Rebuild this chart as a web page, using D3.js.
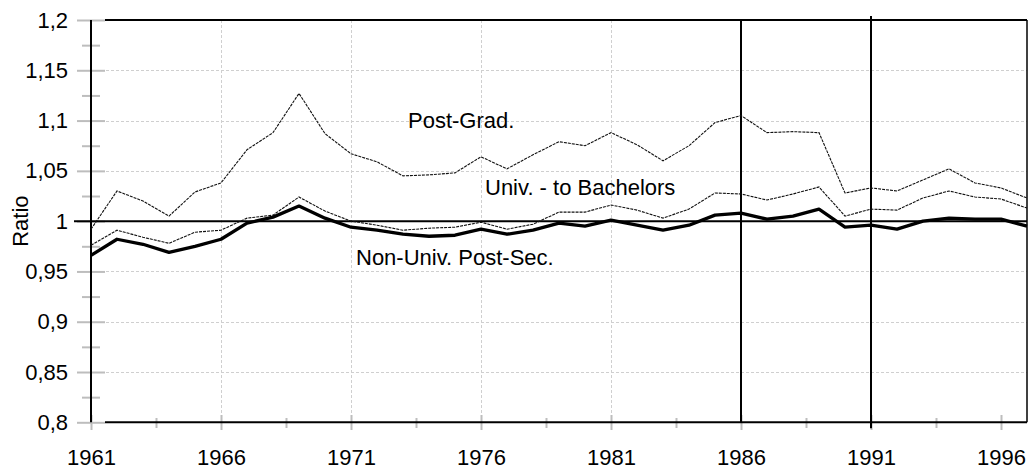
<!DOCTYPE html>
<html>
<head>
<meta charset="utf-8">
<script src="https://cdn.jsdelivr.net/npm/d3@7"></script>
<style>
  body { margin: 0; background: #fff; }
  svg { display: block; }
  text { font-family: "Liberation Sans", Arial, sans-serif; fill: #000; }
</style>
</head>
<body>
<div id="chart"></div>
<script>
var years = [1961, 1962, 1963, 1964, 1965, 1966, 1967, 1968, 1969, 1970,
             1971, 1972, 1973, 1974, 1975, 1976, 1977, 1978, 1979, 1980,
             1981, 1982, 1983, 1984, 1985, 1986, 1987, 1988, 1989, 1990,
             1991, 1992, 1993, 1994, 1995, 1996, 1997];

var postGrad = [0.992, 1.030, 1.020, 1.005, 1.029, 1.038, 1.071, 1.088, 1.127, 1.087,
                1.067, 1.059, 1.045, 1.046, 1.048, 1.064, 1.052, 1.066, 1.079, 1.075,
                1.088, 1.076, 1.060, 1.075, 1.098, 1.105, 1.088, 1.089, 1.088, 1.028,
                1.033, 1.030, 1.041, 1.052, 1.038, 1.033, 1.023];

var univBach = [0.976, 0.991, 0.984, 0.978, 0.989, 0.991, 1.003, 1.006, 1.024, 1.010,
                1.000, 0.996, 0.991, 0.993, 0.994, 0.999, 0.992, 0.997, 1.009, 1.009,
                1.016, 1.011, 1.003, 1.012, 1.028, 1.027, 1.021, 1.027, 1.034, 1.005,
                1.012, 1.011, 1.023, 1.030, 1.024, 1.022, 1.013];

var nonUniv = [0.966, 0.982, 0.977, 0.969, 0.975, 0.982, 0.998, 1.004, 1.015, 1.003,
               0.994, 0.991, 0.987, 0.985, 0.986, 0.992, 0.987, 0.991, 0.998, 0.995,
               1.001, 0.996, 0.991, 0.996, 1.006, 1.008, 1.002, 1.005, 1.012, 0.994,
               0.996, 0.992, 1.000, 1.003, 1.002, 1.002, 0.995];

var xTicks = [1961, 1966, 1971, 1976, 1981, 1986, 1991, 1996];
var xMinor = [1963.5, 1968.5, 1973.5, 1978.5, 1983.5, 1988.5, 1993.5];
var yTicks = [0.8, 0.85, 0.9, 0.95, 1, 1.05, 1.1, 1.15, 1.2];
var yMinor = [0.825, 0.875, 0.925, 0.975, 1.025, 1.075, 1.125, 1.175];
var xGrid = [1966, 1971, 1976, 1981];
var markYears = [1986, 1991];

var WIDTH = 1028;
var HEIGHT = 469;
var LEFT = 91, RIGHT = 1027, TOP = 20, BOTTOM = 422.3;

var x = d3.scaleLinear().domain([1961, 1997]).range([LEFT, RIGHT]);
var y = d3.scaleLinear().domain([0.8, 1.2]).range([BOTTOM, TOP]);

var commaFmt = function(d) { return String(+d.toFixed(3)).replace('.', ','); };

var svg = d3.select('#chart')
  .append('svg')
    .attr('width', WIDTH)
    .attr('height', HEIGHT);

// dashed grid
svg.append('g').selectAll('line')
  .data(yTicks.filter(function(d) { return d !== 1 && d !== 0.8 && d !== 1.2; }))
  .enter().append('line')
    .attr('x1', LEFT).attr('x2', RIGHT)
    .attr('y1', function(d) { return Math.round(y(d)) + 0.5; })
    .attr('y2', function(d) { return Math.round(y(d)) + 0.5; })
    .attr('stroke', '#cfcfcf').attr('stroke-dasharray', '3,2');

svg.append('g').selectAll('line')
  .data(xGrid)
  .enter().append('line')
    .attr('x1', function(d) { return Math.round(x(d)) + 0.5; })
    .attr('x2', function(d) { return Math.round(x(d)) + 0.5; })
    .attr('y1', TOP).attr('y2', BOTTOM)
    .attr('stroke', '#cfcfcf').attr('stroke-dasharray', '3,2');

// y axis ticks + labels
var yAxis = d3.axisLeft(y).tickValues(yTicks).tickSize(28).tickPadding(9).tickFormat(commaFmt);
var gy = svg.append('g')
  .attr('transform', 'translate(105,0)')
  .call(yAxis);
gy.select('.domain').remove();
gy.selectAll('line').attr('stroke', '#bdbdbd').attr('stroke-width', 2);
gy.selectAll('text').style('font-size', '22px');

var gyMinor = svg.append('g')
  .attr('transform', 'translate(100,0)')
  .call(d3.axisLeft(y).tickValues(yMinor).tickSize(18).tickFormat(''));
gyMinor.select('.domain').remove();
gyMinor.selectAll('line').attr('stroke', '#bdbdbd').attr('stroke-width', 2);

// x axis ticks + labels
var xAxis = d3.axisBottom(x).tickValues(xTicks).tickSize(15).tickPadding(35).tickFormat(d3.format('d'));
var gx = svg.append('g')
  .attr('transform', 'translate(0,415)')
  .call(xAxis);
gx.select('.domain').remove();
gx.selectAll('line').attr('stroke', '#bdbdbd').attr('stroke-width', 2);
gx.selectAll('text').style('font-size', '22px').attr('dy', 0);

var gxMinor = svg.append('g')
  .attr('transform', 'translate(0,418)')
  .call(d3.axisBottom(x).tickValues(xMinor).tickSize(10).tickFormat(''));
gxMinor.select('.domain').remove();
gxMinor.selectAll('line').attr('stroke', '#bdbdbd').attr('stroke-width', 2);

// frame
svg.append('line').attr('x1', 105).attr('x2', RIGHT).attr('y1', TOP).attr('y2', TOP)
  .attr('stroke', '#000').attr('stroke-width', 2);
svg.append('line').attr('x1', 105).attr('x2', RIGHT).attr('y1', BOTTOM).attr('y2', BOTTOM)
  .attr('stroke', '#000').attr('stroke-width', 2);
svg.append('line').attr('x1', LEFT).attr('x2', LEFT).attr('y1', TOP).attr('y2', BOTTOM)
  .attr('stroke', '#000').attr('stroke-width', 2);
svg.append('line').attr('x1', RIGHT).attr('x2', RIGHT).attr('y1', TOP).attr('y2', BOTTOM)
  .attr('stroke', '#000').attr('stroke-width', 1.5);

// reference line at 1
svg.append('line').attr('x1', 74).attr('x2', RIGHT)
  .attr('y1', y(1)).attr('y2', y(1))
  .attr('stroke', '#000').attr('stroke-width', 2);

// vertical markers
svg.append('g').selectAll('line')
  .data(markYears)
  .enter().append('line')
    .attr('x1', function(d) { return x(d); })
    .attr('x2', function(d) { return x(d); })
    .attr('y1', function(d, i) { return i === 1 ? TOP - 4 : TOP; })
    .attr('y2', function(d, i) { return i === 1 ? BOTTOM + 6 : BOTTOM; })
    .attr('stroke', '#000').attr('stroke-width', 2);

// series
var line = function(vals) {
  return d3.line()
    .x(function(d, i) { return x(years[i]); })
    .y(function(d) { return y(d); })(vals);
};

svg.append('path').attr('d', line(postGrad))
  .attr('fill', 'none').attr('stroke', '#111').attr('stroke-width', 1.1)
  .attr('stroke-dasharray', '3,1');
svg.append('path').attr('d', line(univBach))
  .attr('fill', 'none').attr('stroke', '#111').attr('stroke-width', 1.1)
  .attr('stroke-dasharray', '3,1');
svg.append('path').attr('d', line(nonUniv))
  .attr('fill', 'none').attr('stroke', '#000').attr('stroke-width', 3.3)
  .attr('stroke-linejoin', 'round');

// series labels
svg.append('text').attr('x', 408).attr('y', 128).style('font-size', '22px').text('Post-Grad.');
svg.append('text').attr('x', 485).attr('y', 195).style('font-size', '22px').text('Univ. - to Bachelors');
svg.append('text').attr('x', 356).attr('y', 265).style('font-size', '22px').text('Non-Univ. Post-Sec.');

// y title
svg.append('text')
  .attr('transform', 'translate(28,' + ((TOP + BOTTOM) / 2) + ') rotate(-90)')
  .attr('text-anchor', 'middle')
  .style('font-size', '22px')
  .text('Ratio');
</script>
</body>
</html>
